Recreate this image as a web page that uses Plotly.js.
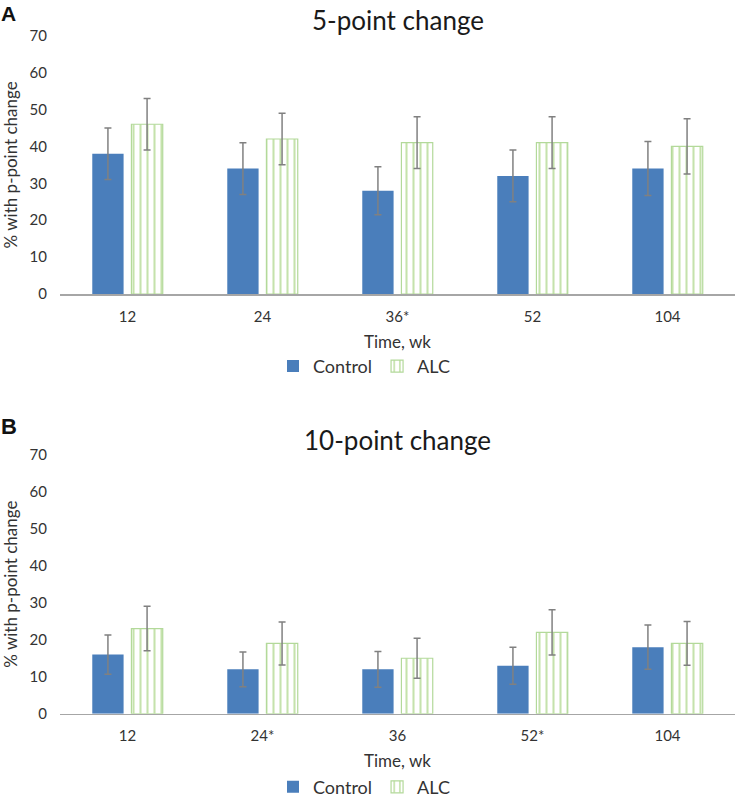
<!DOCTYPE html>
<html><head><meta charset="utf-8">
<script src="https://cdn.plot.ly/plotly-3.0.1.min.js"></script>
<style>html,body{margin:0;padding:0;background:#fff}#chart{width:736px;height:806px}</style>
</head><body><div id="chart"></div>
<script>
const catsA = ["12", "24", "36*", "52", "104"];
const controlA = [38, 34, 28, 32, 34];
const controlAErr = [7, 7, 6.5, 7, 7.3];
const alcA = [46, 42, 41, 41, 40];
const alcAErr = [7, 7, 7, 7, 7.5];

const catsB = ["12", "24*", "36", "52*", "104"];
const controlB = [16, 12, 12, 13, 18];
const controlBErr = [5.3, 4.7, 4.8, 5, 6];
const alcB = [23, 19, 15, 22, 19];
const alcBErr = [6, 5.8, 5.4, 6.1, 5.9];

const FONT = "Lato, 'Open Sans', sans-serif";
const BLUE = "#4a7ebb";
const GREEN = "#8cc65a";
const GREEN_LINE = "#b3d99a";
const TXT = "#333333";
const ERR = {type: "data", visible: true, color: "#808080", thickness: 1.5, width: 3.5};

function ctrl(x, y, e, xa, ya, lg) {
  return {type: "bar", name: "Control", x: x, y: y, xaxis: xa, yaxis: ya, legend: lg, showlegend: true,
    marker: {color: BLUE, line: {width: 0}},
    error_y: Object.assign({array: e}, ERR)};
}
function alc(x, y, e, xa, ya, lg) {
  return {type: "bar", name: "ALC", x: x, y: y, xaxis: xa, yaxis: ya, legend: lg, showlegend: true,
    marker: {color: "#ffffff", line: {color: GREEN_LINE, width: 1.2},
      pattern: {shape: "|", fgcolor: GREEN, bgcolor: "#ffffff", size: 7, solidity: 0.3, fillmode: "overlay"}},
    error_y: Object.assign({array: e}, ERR)};
}

const data = [
  ctrl(catsA, controlA, controlAErr, "x", "y", "legend"),
  alc(catsA, alcA, alcAErr, "x", "y", "legend"),
  ctrl(catsB, controlB, controlBErr, "x2", "y2", "legend2"),
  alc(catsB, alcB, alcBErr, "x2", "y2", "legend2")
];

const H = 806;
function py(pix) { return 1 - pix / H; }

const yBase = {range: [0, 70], dtick: 10, tick0: 0, showgrid: false, zeroline: false, showline: false,
  ticks: "", ticklabelstandoff: 12, tickfont: {family: FONT, size: 15, color: TXT}, fixedrange: true};
const xBase = {type: "category", showgrid: false, zeroline: false, showline: true, linecolor: "#a6a6a6", linewidth: 1.5,
  ticks: "", ticklabelstandoff: 8, tickfont: {family: FONT, size: 15, color: TXT}, fixedrange: true};
const xTitle = {text: "Time, wk", font: {family: FONT, size: 17, color: TXT}, standoff: 12};
const yTitle = {text: "% with p-point change", font: {family: FONT, size: 17, color: TXT}, standoff: 7};

const layout = {
  width: 736, height: 806,
  margin: {l: 60, r: 1, t: 0, b: 0},
  paper_bgcolor: "#fff", plot_bgcolor: "#fff",
  font: {family: FONT, color: TXT},
  barmode: "group", bargap: 0.42, bargroupgap: 0.2,
  xaxis: Object.assign({}, xBase, {domain: [0, 1], anchor: "y", title: xTitle}),
  yaxis: Object.assign({}, yBase, {domain: [py(297), py(36)], anchor: "x", title: yTitle}),
  xaxis2: Object.assign({}, xBase, {domain: [0, 1], anchor: "y2", title: xTitle}),
  yaxis2: Object.assign({}, yBase, {domain: [py(721), py(459)], anchor: "x2", title: yTitle}),
  legend: {orientation: "h", x: (364 - 60) / 675, xanchor: "center", y: py(370), yanchor: "middle",
    font: {family: FONT, size: 18, color: TXT}, itemwidth: 30, traceorder: "normal"},
  legend2: {orientation: "h", x: (364 - 60) / 675, xanchor: "center", y: py(795), yanchor: "middle",
    font: {family: FONT, size: 18, color: TXT}, itemwidth: 30, traceorder: "normal"},
  annotations: [
    {text: "5-point change", xref: "paper", yref: "paper", x: 0.5, y: py(20), xanchor: "center", yanchor: "middle",
      showarrow: false, font: {family: FONT, size: 26, color: "#1a1a1a"}},
    {text: "10-point change", xref: "paper", yref: "paper", x: 0.5, y: py(444), xanchor: "center", yanchor: "middle",
      showarrow: false, font: {family: FONT, size: 26, color: "#1a1a1a"}},
    {text: "<b>A</b>", xref: "paper", yref: "paper", x: -60 / 675, y: py(14), xanchor: "left", yanchor: "middle",
      borderpad: 0, showarrow: false, font: {family: "Liberation Sans, Arial, sans-serif", size: 21, color: "#111"}},
    {text: "<b>B</b>", xref: "paper", yref: "paper", x: -60 / 675, y: py(431), xanchor: "left", yanchor: "middle",
      borderpad: 0, showarrow: false, font: {family: "Liberation Sans, Arial, sans-serif", size: 22, color: "#111"}}
  ]
};

Plotly.newPlot("chart", data, layout, {displayModeBar: false, staticPlot: true});
</script></body></html>
